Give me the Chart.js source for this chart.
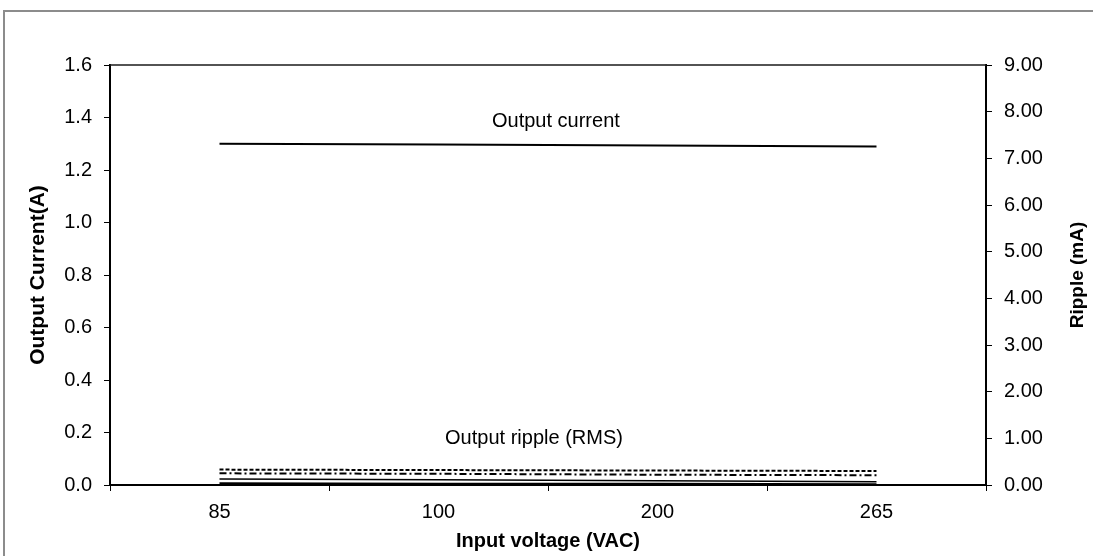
<!DOCTYPE html>
<html><head><meta charset="utf-8">
<script src="https://cdn.jsdelivr.net/npm/chart.js@4"></script>
<style>
html,body{margin:0;padding:0;background:#fff;}
#wrap{position:relative;width:1093px;height:556px;overflow:hidden;}
#frame{position:absolute;left:3px;top:10px;right:-5px;bottom:-5px;border-left:2px solid #8c8c8c;border-top:2px solid #8c8c8c;pointer-events:none;}
canvas{position:absolute;left:0;top:0;}
</style></head>
<body><div id="wrap"><canvas id="c" width="1093" height="556"></canvas><div id="frame"></div></div>
<script>
const categories = ['85', '100', '200', '265'];
const outputCurrent = [1.30, 1.297, 1.293, 1.29];
const rippleDashed = [0.33, 0.32, 0.31, 0.30];
const rippleDashDot = [0.25, 0.24, 0.22, 0.21];
const rippleSolid = [0.13, 0.11, 0.09, 0.07];
const rippleLow = [0.03, 0.02, 0.02, 0.01];
const leftTicks = [0, 0.2, 0.4, 0.6, 0.8, 1.0, 1.2, 1.4, 1.6];
const rightTicks = [0, 1, 2, 3, 4, 5, 6, 7, 8, 9];

const FONT = "'Liberation Sans', Arial, sans-serif";
const notes = [
  {text: 'Output current', at: 1.536, axis: 'y', value: 1.383},
  {text: 'Output ripple (RMS)', at: 1.436, axis: 'y2', value: 1.0}
];
const rightTitle = 'Ripple (mA)';

const framePlugin = {
  id: 'frameAndNotes',
  afterDraw(chart) {
    const {ctx, chartArea: a, scales} = chart;
    ctx.save();
    ctx.strokeStyle = '#1a1a1a';
    ctx.lineWidth = 1.5;
    ctx.beginPath();
    ctx.moveTo(a.left, a.top); ctx.lineTo(a.right, a.top);
    ctx.stroke();
    ctx.fillStyle = '#000';
    ctx.font = '20px ' + FONT;
    ctx.textAlign = 'center';
    ctx.textBaseline = 'middle';
    const p0 = scales.x.getPixelForValue(0), p1 = scales.x.getPixelForValue(1);
    notes.forEach(n => {
      const px = p0 + n.at * (p1 - p0);
      const py = scales[n.axis].getPixelForValue(n.value);
      ctx.fillText(n.text, px, py);
    });
    // right axis title, reading bottom-to-top
    const s2 = scales.y2;
    ctx.font = 'bold 19px ' + FONT;
    ctx.translate(s2.right - 15, (a.top + a.bottom) / 2);
    ctx.rotate(-Math.PI / 2);
    ctx.fillText(rightTitle, 0, 0);
    ctx.restore();
  }
};

function lineDs(data, axis, dash, width) {
  return {data, yAxisID: axis, borderColor: '#000', borderWidth: width, borderDash: dash,
    pointRadius: 0, fill: false, tension: 0};
}

new Chart(document.getElementById('c'), {
  type: 'line',
  data: {
    labels: categories,
    datasets: [
      lineDs(outputCurrent, 'y', [], 2),
      lineDs(rippleDashed, 'y2', [4, 2], 2),
      lineDs(rippleDashDot, 'y2', [7, 3, 2, 3], 2),
      lineDs(rippleSolid, 'y2', [], 1.5),
      lineDs(rippleLow, 'y2', [], 2.5)
    ]
  },
  options: {
    responsive: false, animation: false, devicePixelRatio: 1,
    layout: {padding: {top: 65, left: 0, right: 0, bottom: 0}},
    plugins: {legend: {display: false}, tooltip: {enabled: false}},
    scales: {
      x: {
        type: 'category', offset: true,
        grid: {offset: true, drawOnChartArea: false, drawTicks: true, tickLength: 6, color: '#000', lineWidth: 1},
        border: {display: true, color: '#000', width: 2},
        ticks: {font: {family: FONT, size: 20}, color: '#000', padding: 9, maxRotation: 0},
        title: {display: true, text: 'Input voltage (VAC)', color: '#000',
          font: {family: FONT, size: 20, weight: 'bold'}, padding: {top: 0, bottom: 3}},
        afterFit: s => { s.height = 71; }
      },
      y: {
        position: 'left', min: 0, max: 1.6,
        afterBuildTicks: s => { s.ticks = leftTicks.map(v => ({value: v})); },
        grid: {drawOnChartArea: false, drawTicks: true, tickLength: 6, color: '#000'},
        border: {display: true, color: '#000', width: 2},
        ticks: {font: {family: FONT, size: 20}, color: '#000', padding: 12, callback: v => Number(v).toFixed(1)},
        title: {display: true, text: 'Output Current(A)', color: '#000',
          font: {family: FONT, size: 21, weight: 'bold'}, padding: {top: 26, bottom: 0}},
        afterFit: s => { s.width = 110; }
      },
      y2: {
        position: 'right', min: 0, max: 9,
        afterBuildTicks: s => { s.ticks = rightTicks.map(v => ({value: v})); },
        grid: {drawOnChartArea: false, drawTicks: true, tickLength: 6, color: '#000'},
        border: {display: true, color: '#000', width: 2},
        ticks: {font: {family: FONT, size: 20}, color: '#000', padding: 12, callback: v => Number(v).toFixed(2)},
        title: {display: false},
        afterFit: s => { s.width = 107; }
      }
    }
  },
  plugins: [framePlugin]
});
</script>
</body></html>
